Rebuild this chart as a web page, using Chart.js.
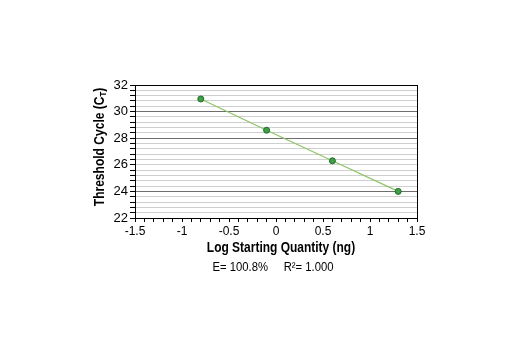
<!DOCTYPE html>
<html>
<head>
<meta charset="utf-8">
<script src="https://cdn.jsdelivr.net/npm/chart.js@4/dist/chart.umd.min.js"></script>
<style>
  html, body { margin: 0; padding: 0; background: #fff; }
  #wrap { width: 520px; height: 350px; }
</style>
</head>
<body>
<div id="wrap"><canvas id="chart" width="520" height="350"></canvas></div>
<script>
// data
const logQty = [-0.8, -0.1, 0.6, 1.3];
const ctValues = [30.95, 28.6, 26.3, 24.0];
const xTickLabels = ["-1.5", "-1", "-0.5", "0", "0.5", "1", "1.5"];
const yTickLabels = ["22", "24", "26", "28", "30", "32"];
const darkGridAt = [24, 28, 30];
const xTitle = "Log Starting Quantity (ng)";
const yTitle = "Threshold Cycle (C";
const yTitleSub = "T";
const statsText = "E= 100.8%     R\u00B2= 1.000";

const points = logQty.map((x, i) => ({ x: x, y: ctValues[i] }));
const boldFont = "bold 14px 'Liberation Sans', Arial, sans-serif";
const subFont = "bold 9px 'Liberation Sans', Arial, sans-serif";

// titles are squeezed sideways to look like the condensed face of the original
const frameAndText = {
  id: "frameAndText",
  afterDraw(chart) {
    const c = chart.ctx;
    const a = chart.chartArea;
    c.save();
    c.strokeStyle = "#000";
    c.lineWidth = 1;
    c.strokeRect(Math.round(a.left) + 0.5, Math.round(a.top) + 0.5,
      Math.round(a.right - a.left), Math.round(a.bottom - a.top));
    c.restore();

    c.save();
    c.fillStyle = "#000";
    c.textAlign = "center";
    c.textBaseline = "middle";
    // x title
    c.save();
    c.translate(281, 248);
    c.scale(0.855, 1);
    c.font = boldFont;
    c.fillText(xTitle, 0, 0);
    c.restore();

    // stats line
    c.save();
    c.translate(273, 268);
    c.scale(0.94, 1);
    c.font = "12px 'Liberation Sans', Arial, sans-serif";
    c.fillText(statsText, 0, 0);
    c.restore();

    // y title with subscript
    c.translate(100, 147);
    c.rotate(-Math.PI / 2);
    c.scale(0.86, 1);
    c.font = boldFont;
    const w1 = c.measureText(yTitle).width;
    const w3 = c.measureText(")").width;
    c.font = subFont;
    const w2 = c.measureText(yTitleSub).width;
    const x0 = -(w1 + w2 + w3) / 2;
    c.textAlign = "left";
    c.font = boldFont;
    c.fillText(yTitle, x0, 0);
    c.font = subFont;
    c.fillText(yTitleSub, x0 + w1, 4);
    c.font = boldFont;
    c.fillText(")", x0 + w1 + w2, 0);
    c.restore();
  }
};

const isEven = v => Math.abs(v - Math.round(v)) < 1e-6 && Math.round(v) % 2 === 0;

new Chart(document.getElementById("chart"), {
  type: "scatter",
  data: {
    datasets: [{
      data: points,
      showLine: true,
      borderColor: "#8cc466",
      borderWidth: 1.2,
      backgroundColor: "#3fa045",
      pointBorderColor: "#1f6b2a",
      pointBorderWidth: 1,
      pointRadius: 3,
      tension: 0
    }]
  },
  options: {
    responsive: false,
    animation: false,
    layout: { padding: { left: 0, top: 85, right: 103, bottom: 0 } },
    plugins: { legend: { display: false }, tooltip: { enabled: false } },
    scales: {
      x: {
        type: "linear",
        min: -1.5,
        max: 1.5,
        afterFit: s => { s.height = 132; },
        afterBuildTicks: s => {
          s.ticks = [];
          for (let i = -15; i <= 15; i++) s.ticks.push({ value: i / 10 });
        },
        border: { color: "#000", width: 1 },
        grid: { drawOnChartArea: false, tickLength: 4, tickColor: "#000" },
        ticks: {
          autoSkip: false,
          maxRotation: 0,
          padding: 2,
          color: "#000",
          font: { family: "'Liberation Sans', Arial, sans-serif", size: 12 },
          callback: v => {
            const h = Math.round(v * 2);
            if (Math.abs(v * 2 - h) > 1e-6) return "";
            return xTickLabels[h + 3];
          }
        }
      },
      y: {
        type: "linear",
        min: 22,
        max: 32,
        afterFit: s => { s.width = 135; },
        afterBuildTicks: s => {
          s.ticks = [];
          for (let i = 0; i <= 25; i++) s.ticks.push({ value: 22 + i * 0.4 });
        },
        border: { color: "#000", width: 1 },
        grid: {
          tickLength: 5,
          tickColor: "#000",
          color: ctx => {
            const v = ctx.tick ? ctx.tick.value : 0;
            return darkGridAt.some(d => Math.abs(d - v) < 1e-6) ? "#6e6e6e" : "#cfcfcf";
          },
          lineWidth: 1
        },
        ticks: {
          autoSkip: false,
          padding: 2,
          color: "#000",
          font: { family: "'Liberation Sans', Arial, sans-serif", size: 13 },
          callback: v => isEven(v) ? yTickLabels[(Math.round(v) - 22) / 2] : ""
        }
      }
    }
  },
  plugins: [frameAndText]
});
</script>
</body>
</html>
